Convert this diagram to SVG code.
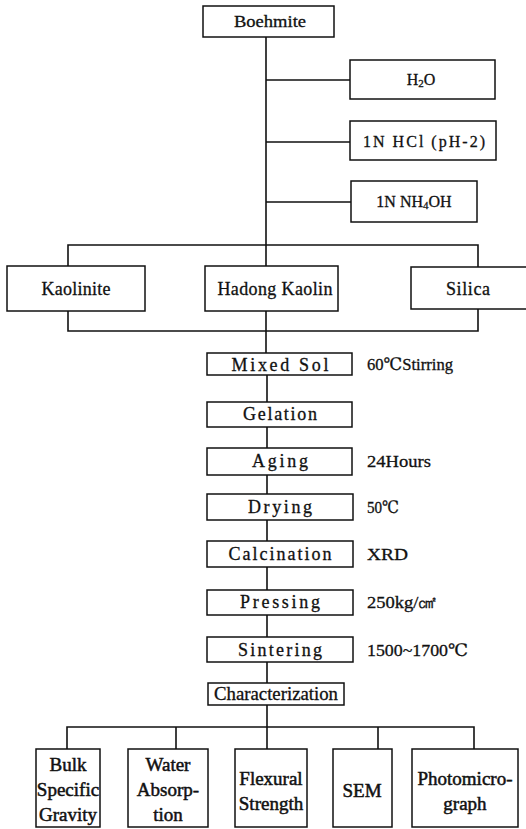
<svg xmlns="http://www.w3.org/2000/svg" width="526" height="829" viewBox="0 0 526 829" font-family="'Liberation Serif', 'DejaVu Serif', serif">
<style>
.box{fill:#fff;stroke:#111;stroke-width:1.5}
.ln{fill:none;stroke:#111;stroke-width:1.6}
text{font-family:"Liberation Serif","DejaVu Serif",serif;fill:#111;stroke:#111;stroke-width:0.3}
.t{font-size:16px;text-anchor:middle}
.p{font-size:18px;text-anchor:middle}
.s{font-size:17px}
.b{font-size:19px;text-anchor:middle;stroke-width:0.5}
</style>
<rect width="526" height="829" fill="#fff"/>
<g id="connectors">
<path class="ln" d="M266 37V245M266 80H350M266 142H350M266 202H351"/>
<path class="ln" d="M68 266V245H478V267M266 245V266"/>
<path class="ln" d="M68 311V331H478V309M266 311V353"/>
<path class="ln" d="M267 375V402M267 427V448M267 475V494M267 520V541M267 567V590M267 615V637M267 662V683"/>
<path class="ln" d="M267 705V749M67 749V727H474V749M176 727V749M378 727V749"/>
</g>
<g id="boehmite"><rect class="box" x="203" y="6" width="131" height="31"/><text class="t" x="270" y="27" textLength="72" lengthAdjust="spacingAndGlyphs">Boehmite</text></g>
<g id="h2o"><rect class="box" x="350" y="60" width="145" height="39"/><text class="t" x="421" y="85">H<tspan font-size="11" dy="2">2</tspan><tspan dy="-2">O</tspan></text></g>
<g id="hcl"><rect class="box" x="350" y="121" width="146" height="39"/><text class="t" x="424" y="147" textLength="122" lengthAdjust="spacing">1N HCl (pH-2)</text></g>
<g id="nh4oh"><rect class="box" x="351" y="181" width="126" height="41"/><text class="t" x="414" y="207">1N NH<tspan font-size="11" dy="2">4</tspan><tspan dy="-2">OH</tspan></text></g>
<g id="kaolinite"><rect class="box" x="7" y="266" width="138" height="45"/><text class="p" x="76" y="295" textLength="69" lengthAdjust="spacing">Kaolinite</text></g>
<g id="hadong"><rect class="box" x="205" y="266" width="133" height="45"/><text class="p" x="275" y="295" textLength="115" lengthAdjust="spacing">Hadong  Kaolin</text></g>
<g id="silica"><rect class="box" x="411" y="267" width="120" height="42"/><text class="p" x="468" y="295" textLength="44" lengthAdjust="spacing">Silica</text></g>
<g id="mixedsol"><rect class="box" x="207" y="353" width="145" height="22"/><text class="p" x="280" y="371" textLength="97" lengthAdjust="spacing">Mixed  Sol</text><text class="s" x="367" y="370" textLength="86" lengthAdjust="spacingAndGlyphs">60℃Stirring</text></g>
<g id="gelation"><rect class="box" x="207" y="402" width="145" height="25"/><text class="p" x="280" y="420" textLength="74" lengthAdjust="spacing">Gelation</text></g>
<g id="aging"><rect class="box" x="207" y="448" width="145" height="27"/><text class="p" x="280" y="467" textLength="56" lengthAdjust="spacing">Aging</text><text class="s" x="367" y="467" textLength="64" lengthAdjust="spacingAndGlyphs">24Hours</text></g>
<g id="drying"><rect class="box" x="207" y="494" width="146" height="26"/><text class="p" x="280" y="513" textLength="64" lengthAdjust="spacing">Drying</text><text class="s" x="367" y="513" textLength="32" lengthAdjust="spacingAndGlyphs">50℃</text></g>
<g id="calcination"><rect class="box" x="207" y="541" width="146" height="26"/><text class="p" x="280" y="560" textLength="103" lengthAdjust="spacing">Calcination</text><text class="s" x="367" y="560" textLength="41" lengthAdjust="spacingAndGlyphs">XRD</text></g>
<g id="pressing"><rect class="box" x="207" y="590" width="146" height="25"/><text class="p" x="280" y="608" textLength="80" lengthAdjust="spacing">Pressing</text><text class="s" x="367" y="608" textLength="70" lengthAdjust="spacingAndGlyphs">250kg/㎠</text></g>
<g id="sintering"><rect class="box" x="207" y="637" width="146" height="25"/><text class="p" x="280" y="656" textLength="84" lengthAdjust="spacing">Sintering</text><text class="s" x="367" y="656" textLength="101" lengthAdjust="spacingAndGlyphs">1500~1700℃</text></g>
<g id="characterization"><rect class="box" x="208" y="683" width="136" height="22"/><text class="p" x="276" y="700" textLength="124" lengthAdjust="spacingAndGlyphs">Characterization</text></g>
<g id="bulk"><rect class="box" x="36" y="749" width="64" height="78"/><text class="b" x="68" y="771">Bulk</text><text class="b" x="68" y="796">Specific</text><text class="b" x="68" y="821">Gravity</text></g>
<g id="water"><rect class="box" x="128" y="749" width="80" height="78"/><text class="b" x="168" y="771">Water</text><text class="b" x="168" y="796">Absorp-</text><text class="b" x="168" y="821">tion</text></g>
<g id="flexural"><rect class="box" x="235" y="749" width="72" height="78"/><text class="b" x="271" y="785">Flexural</text><text class="b" x="271" y="810">Strength</text></g>
<g id="sem"><rect class="box" x="333" y="749" width="59" height="78"/><text class="b" x="362" y="797">SEM</text></g>
<g id="photo"><rect class="box" x="412" y="749" width="106" height="78"/><text class="b" x="465" y="785">Photomicro-</text><text class="b" x="465" y="810">graph</text></g>
</svg>
